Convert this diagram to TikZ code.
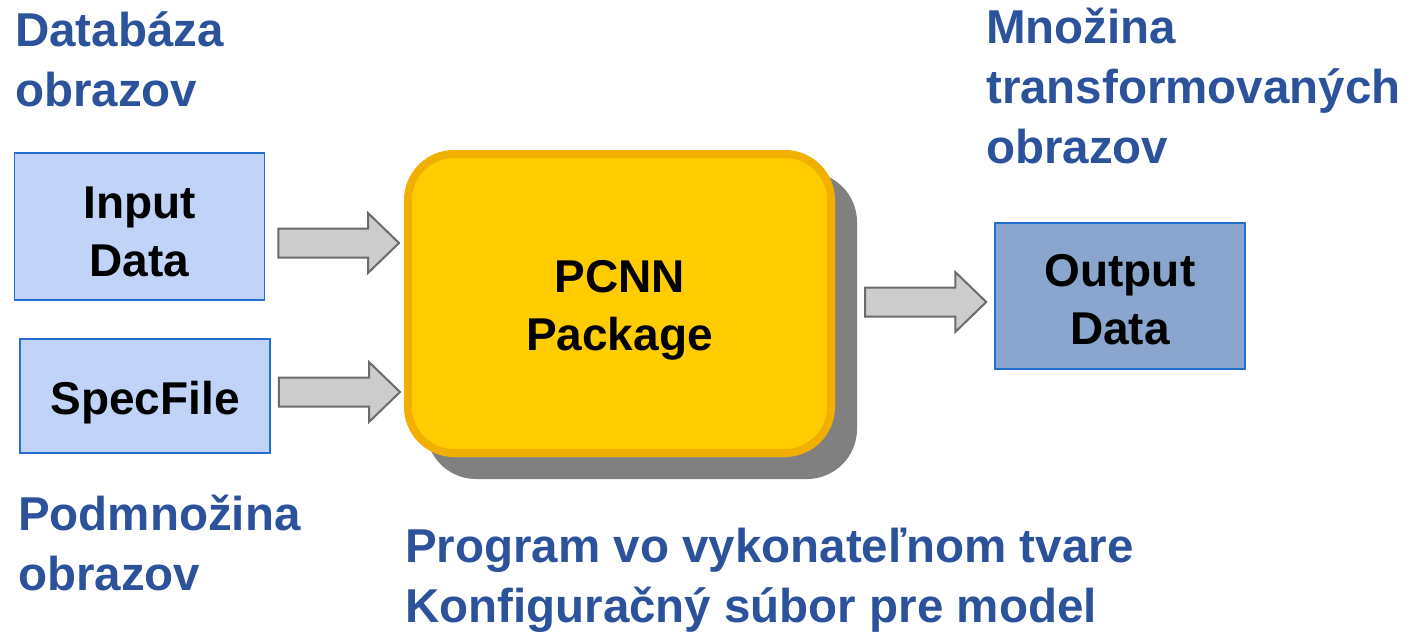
\documentclass[tikz,border=0pt]{standalone}
\usepackage{fontspec}
\setmainfont{Liberation Sans}
\usetikzlibrary{calc,shadows}
\definecolor{lblue}{HTML}{2C529C}
\definecolor{inFill}{HTML}{C1D4F7}
\definecolor{outFill}{HTML}{8AA5CE}
\definecolor{boxEdge}{HTML}{2470D2}
\definecolor{pkgFill}{HTML}{FFCC00}
\definecolor{pkgEdge}{HTML}{F1B000}
\definecolor{shadowGray}{HTML}{808080}
\definecolor{arrowFill}{HTML}{CCCCCC}
\definecolor{arrowEdge}{HTML}{6B6B6B}
\newcommand\blockarrow[2]{%
  \draw[barrow] ($(#1)+(0,-14.5)$) -- ($(#2)+(-31,-14.5)$) -- ($(#2)+(-31,-30)$)
    -- (#2) -- ($(#2)+(-31,30)$) -- ($(#2)+(-31,14.5)$) -- ($(#1)+(0,14.5)$) -- cycle;}
\begin{document}
\begin{tikzpicture}[x=1pt,y=-1pt,
  lbl/.style={font=\fontsize{47.5}{60}\selectfont\bfseries, text=lblue, align=left,
    inner sep=0pt, anchor=base west},
  databox/.style={draw=boxEdge, line width=1.5pt, inner sep=0pt},
  boxtext/.style={align=center, inner sep=0pt, font=\fontsize{46}{58}\selectfont\bfseries},
  pkgbox/.style={fill=pkgFill, draw=pkgEdge, line width=8pt, rounded corners=46pt,
    outer sep=4pt, inner sep=0pt,
    general shadow={fill=shadowGray, draw=shadowGray, line width=8pt,
      shadow xshift=22pt, shadow yshift=-22pt}},
  barrow/.style={fill=arrowFill, draw=arrowEdge, line width=2pt, line join=miter}]
\useasboundingbox (0,0) rectangle (1418,638);

\node[databox, fill=inFill, minimum width=250pt, minimum height=147pt] (in) at (139.5,226.5) {};
\node[databox, fill=inFill, minimum width=250pt, minimum height=114pt] (spec) at (145,396) {};
\node[pkgbox, minimum width=423pt, minimum height=299pt] (pcnn) at (619.5,303.5) {};
\node[databox, fill=outFill, minimum width=250pt, minimum height=146pt] (out) at (1120,296) {};

\node[boxtext] (inT) at ($(in.center)+(0,5)$) {Input\\Data};
\node[boxtext] (specT) at ($(spec.center)+(0,7)$) {SpecFile};
\node[boxtext] (pcnnT) at ($(pcnn.center)+(0,7)$) {PCNN\\Package};
\node[boxtext] (outT) at ($(out.center)+(0,4)$) {Output\\Data};

\coordinate (a1s) at ($(in.east)+(13,16.5)$);
\coordinate (a1t) at ($(a1s -| pcnn.west)+(-5,0)$);
\coordinate (a2s) at ($(spec.east)+(8,-4)$);
\coordinate (a2t) at ($(a2s -| pcnn.west)+(-4,0)$);
\coordinate (a3s) at ($(pcnn.east)+(30,-1.5)$);
\coordinate (a3t) at ($(a3s -| out.west)+(-8,0)$);
\blockarrow{a1s}{a1t}
\blockarrow{a2s}{a2t}
\blockarrow{a3s}{a3t}

\node[lbl] (db) at (15,106) {Databáza\\obrazov};
\node[lbl] (mn) at (986,163.5) {Množina\\transformovaných\\obrazov};
\node[lbl] (pm) at (18,590) {Podmnožina\\obrazov};
\node[lbl] (pg) at (405,622) {Program vo vykonateľnom tvare\\Konfiguračný súbor pre model};
\end{tikzpicture}
\end{document}
